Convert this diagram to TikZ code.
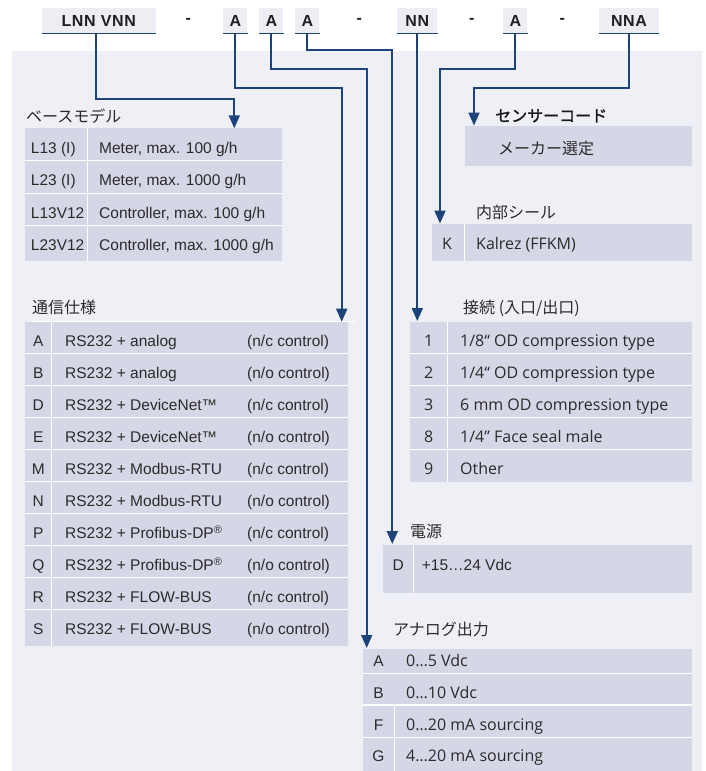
\documentclass[tikz,border=0pt]{standalone}
\usepackage{fontspec}
\setmainfont{Liberation Sans}
\newfontfamily\cjk{Noto Sans CJK JP}
\newfontfamily\cjkb[FakeBold=1.5]{Noto Sans CJK JP}
\newfontfamily\osans{Open Sans}
\newfontfamily\hdr[LetterSpace=4]{Liberation Sans}
\usetikzlibrary{arrows.meta}
\definecolor{bgc}{HTML}{EFF0F5}
\definecolor{cellc}{HTML}{D5D6E6}
\definecolor{hboxc}{HTML}{EDEEF4}
\definecolor{navy}{HTML}{1D447A}
\definecolor{txt}{HTML}{2B2B2B}
\begin{document}
\begin{tikzpicture}[x=1pt,y=-1pt,
  hbox/.style={fill=hboxc, inner sep=0pt, minimum height=25pt, text=black!88, font=\hdr\bfseries\fontsize{16}{16}\selectfont},
  hdash/.style={inner sep=0pt, text=black!88, font=\hdr\bfseries\fontsize{16}{16}\selectfont},
  uline/.style={draw=navy, line width=1.6pt},
  sep/.style={draw=white, line width=1.3pt},
  lt/.style={anchor=base west, inner sep=0pt, text=txt, font=\fontsize{15.5}{16}\selectfont},
  ltc/.style={anchor=base, inner sep=0pt, text=txt, font=\fontsize{15.5}{16}\selectfont},
  ot/.style={anchor=base west, inner sep=0pt, text=txt, font=\osans\fontsize{16}{16}\selectfont},
  otc/.style={anchor=base, inner sep=0pt, text=txt, font=\osans\fontsize{16}{16}\selectfont},
  jt/.style={anchor=west, inner sep=0pt, text=txt, font=\cjk\fontsize{16}{16}\selectfont},
  jtb/.style={anchor=west, inner sep=0pt, text=black!90, font=\cjkb\fontsize{16}{16}\selectfont},
  conn/.style={draw=navy, line width=1.8pt, -{Triangle[width=11pt,length=13pt]}}
]
\path[use as bounding box] (0,0) rectangle (705,771);
\fill[bgc] (11.7,50.7) rectangle (701.7,771);

% header
\node[hbox,minimum width=114pt] (hLNN) at (98.7,20.8) {LNN VNN};
\node[hbox,minimum width=24pt] (hA1) at (235.3,20.8) {A};
\node[hbox,minimum width=24pt] (hA2) at (271.3,20.8) {A};
\node[hbox,minimum width=24pt] (hA3) at (307.3,20.8) {A};
\node[hbox,minimum width=40pt] (hNN) at (417.3,20.8) {NN};
\node[hbox,minimum width=24pt] (hA5) at (515.3,20.8) {A};
\node[hbox,minimum width=60pt] (hNNA) at (629,20.8) {NNA};
\foreach \n in {hLNN,hA1,hA2,hA3,hNN,hA5,hNNA}
  \draw[uline] (\n.south west) -- (\n.south east);
\node[hdash] (d1) at (188.3,21) {-};
\node[hdash] (d2) at (359.3,21) {-};
\node[hdash] (d3) at (471.7,21) {-};
\node[hdash] (d4) at (562.3,21) {-};

% ---- base model
\node[jt] (tBase) at (26,116) {ベースモデル};
\fill[cellc] (25,128.3) rectangle (282,260.7);
\draw[sep] (87.3,128.3) -- (87.3,260.7);
\foreach \y in {160.7,193.3,225.7} \draw[sep] (25,\y) -- (282,\y);
\node[lt] (b1k) at (30.7,153) {L13 (I)};
\node[lt] (b1d) at (99,153) {Meter, max. 100 g/h};
\node[lt] (b2k) at (30.7,185.5) {L23 (I)};
\node[lt] (b2d) at (99,185.5) {Meter, max. 1000 g/h};
\node[lt] (b3k) at (30.7,218) {L13V12};
\node[lt] (b3d) at (99,218) {Controller, max. 100 g/h};
\node[lt] (b4k) at (30.7,250.5) {L23V12};
\node[lt] (b4d) at (99,250.5) {Controller, max. 1000 g/h};

% ---- communication
\node[jt] (tComm) at (32,307) {通信仕様};
\fill[cellc] (25,321.7) rectangle (348.3,645.7);
\draw[sep] (51.7,321.7) -- (51.7,645.7);
\foreach \i in {1,...,9} \draw[sep] (25,{321.7+32*\i}) -- (348.3,{321.7+32*\i});
\draw[sep] (32,321.7) -- (355,321.7);
\foreach \l/\d/\c [count=\i from 0] in {
  A/{RS232 + analog}/{(n/c control)},
  B/{RS232 + analog}/{(n/o control)},
  D/{RS232 + DeviceNet™}/{(n/c control)},
  E/{RS232 + DeviceNet™}/{(n/o control)},
  M/{RS232 + Modbus-RTU}/{(n/c control)},
  N/{RS232 + Modbus-RTU}/{(n/o control)},
  P/{RS232 + Profibus-DP\textsuperscript{®}}/{(n/c control)},
  Q/{RS232 + Profibus-DP\textsuperscript{®}}/{(n/o control)},
  R/{RS232 + FLOW-BUS}/{(n/c control)},
  S/{RS232 + FLOW-BUS}/{(n/o control)}}
{
  \node[ltc] (cl\i) at (38.3,{346.5+32*\i}) {\l};
  \node[lt] (cd\i) at (65,{346.5+32*\i}) {\d};
  \node[lt] (cc\i) at (247,{346.5+32*\i}) {\c};
}

% ---- sensor code
\node[jtb] (tSens) at (495,115.8) {センサーコード};
\fill[cellc] (465,126) rectangle (691.7,165.7);
\node[jt] (sens1) at (498,148) {メーカー選定};

% ---- internal seal
\node[jt] (tSeal) at (476,212.5) {内部シール};
\fill[cellc] (432.3,224) rectangle (691.7,260.7);
\draw[sep] (464.3,224) -- (464.3,260.7);
\node[otc] (sealk) at (447,249.3) {K};
\node[ot] (seald) at (476,249.3) {Kalrez (FFKM)};

% ---- connections
\node[jt] (tConn) at (463,308.3) {接続 (入口/出口)};
\fill[cellc] (410,321.7) rectangle (691.7,481.7);
\draw[sep] (447.3,321.7) -- (447.3,481.7);
\foreach \i in {1,...,4} \draw[sep] (410,{321.7+32*\i}) -- (691.7,{321.7+32*\i});
\foreach \k/\d [count=\i from 0] in {
  1/{1/8“ OD compression type},
  2/{1/4“ OD compression type},
  3/{6 mm OD compression type},
  8/{1/4” Face seal male},
  9/{Other}}
{
  \node[otc] (nk\i) at (428.7,{346.5+32*\i}) {\k};
  \node[ot] (nd\i) at (460,{346.5+32*\i}) {\d};
}

% ---- power
\node[jt] (tPow) at (410,531.7) {電源};
\fill[cellc] (383.3,545) rectangle (691.7,592.7);
\draw[sep] (413.3,545) -- (413.3,592.7);
\node[ltc] (pk) at (398.3,570) {D};
\node[lt] (pd) at (421.7,570) {+15…24 Vdc};

% ---- analog output
\node[jt] (tAna) at (393,629.2) {アナログ出力};
\fill[cellc] (362.7,649) rectangle (691.7,771);
\draw[sep] (362.7,673.3) -- (691.7,673.3);
\draw[sep] (362.7,705) -- (691.7,705);
\draw[sep] (362.7,737.3) -- (691.7,737.3);
\draw[sep] (394.3,705) -- (394.3,771);
\node[ltc] (ak0) at (378.5,666.5) {A};
\node[ot] (ad0) at (406,666.5) {0…5 Vdc};
\node[ltc] (ak1) at (378.5,698) {B};
\node[ot] (ad1) at (406,698) {0…10 Vdc};
\node[ltc] (ak2) at (378.5,730) {F};
\node[ot] (ad2) at (406,730) {0…20 mA sourcing};
\node[ltc] (ak3) at (378.5,761.5) {G};
\node[ot] (ad3) at (406,761.5) {4…20 mA sourcing};

% ---- connectors
\coordinate (c1) at (96.3,99.3);
\coordinate (tipBase) at (234.3,128.3);
\coordinate (c2) at (341.7,88.3);
\coordinate (tipComm) at (341.7,321.7);
\coordinate (c3) at (366.7,69.3);
\coordinate (tipAna) at (366.7,648);
\coordinate (c4) at (392.3,50.3);
\coordinate (tipPow) at (392.3,544);
\coordinate (tipConn) at (417.3,321);
\coordinate (c6) at (440,69.3);
\coordinate (tipSeal) at (440,223.5);
\coordinate (c7) at (474,88.3);
\coordinate (tipSens) at (474,125.5);

\draw[conn] (hLNN.south -| c1) -- (c1) -| (tipBase);
\draw[conn] (hA1.south) |- (c2) -- (tipComm);
\draw[conn] (hA2.south) |- (c3) -- (tipAna);
\draw[conn] (hA3.south) |- (c4) -- (tipPow);
\draw[conn] (hNN.south) -- (tipConn);
\draw[conn] (hA5.south) |- (c6) -- (tipSeal);
\draw[conn] (hNNA.south) |- (c7) -- (tipSens);
\end{tikzpicture}
\end{document}
